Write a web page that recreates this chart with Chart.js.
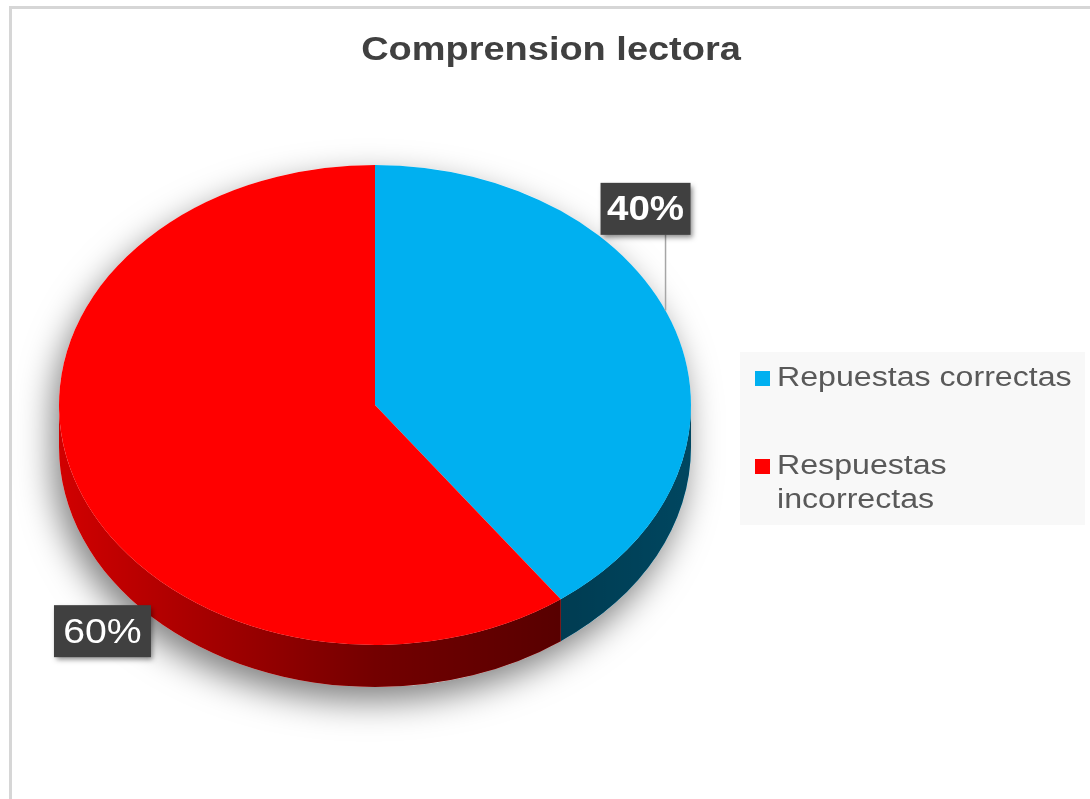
<!DOCTYPE html>
<html>
<head>
<meta charset="utf-8">
<script src="https://cdn.jsdelivr.net/npm/chart.js@4.4.1/dist/chart.umd.min.js"></script>
<style>
    body { margin: 0; background: #fff; overflow: hidden; }
    #frame { position: absolute; left: 9px; top: 6px; right: -10px; bottom: -10px;
             border-left: 3px solid #d6d6d6; border-top: 3px solid #d6d6d6; }
    #pie { position: absolute; left: 0; top: 0; }
</style>
</head>
<body>
<div id="frame"></div>
<canvas id="pie" width="1090" height="799"></canvas>
<script>
// datos del gráfico
const chartTitle = 'Comprension lectora';
const labels = ['Repuestas correctas', 'Respuestas incorrectas'];
const values = [40, 60];
const colors = ['#00b0f0', '#ff0000'];

// apariencia 3D
const tilt = 240 / 316;   // achatamiento vertical de la elipse
const depth = 42;         // grosor del pastel
const labelOffsets = [[-30, -122], [28, 152]];
const FONT = '"Liberation Sans", Arial, sans-serif';

function pieGeom(chart) {
    const arc = chart.getDatasetMeta(0).data[0];
    return { cx: arc.x, cy: arc.y, rx: arc.outerRadius, ry: arc.outerRadius * tilt };
}

// texto estirado en horizontal (como en la imagen original)
function drawText(ctx, text, x, y, align, stretch) {
    ctx.save();
    ctx.translate(x, y);
    ctx.scale(stretch, 1);
    ctx.textAlign = align;
    ctx.fillText(text, 0, 0);
    ctx.restore();
}

// cara lateral + sombra, luego aplastar el pastel
const pie3d = {
    id: 'pie3d',
    beforeDatasetsDraw(chart) {
        const ctx = chart.ctx;
        const { cx, cy, rx, ry } = pieGeom(chart);

        // sombra
        ctx.save();
        ctx.beginPath();
        ctx.ellipse(cx, cy, rx, ry, 0, Math.PI, 2 * Math.PI);
        ctx.lineTo(cx + rx, cy + depth);
        ctx.ellipse(cx, cy + depth, rx, ry, 0, 0, Math.PI);
        ctx.closePath();
        ctx.shadowColor = 'rgba(0,0,0,0.5)';
        ctx.shadowBlur = 34;
        ctx.shadowOffsetX = -6;
        ctx.shadowOffsetY = 14;
        ctx.fillStyle = '#fff';
        ctx.fill();
        ctx.restore();

        // lados visibles (mitad de abajo)
        const shade = ctx.createLinearGradient(cx - rx, 0, cx + rx, 0);
        shade.addColorStop(0, 'rgba(0,0,0,0.18)');
        shade.addColorStop(0.5, 'rgba(0,0,0,0.55)');
        shade.addColorStop(0.8, 'rgba(0,0,0,0.66)');
        shade.addColorStop(1, 'rgba(0,0,0,0.6)');
        chart.getDatasetMeta(0).data.forEach((arc, i) => {
            const a1 = Math.max(arc.startAngle, 0);
            const a2 = Math.min(arc.endAngle, Math.PI);
            if (a2 <= a1) return;
            ctx.beginPath();
            ctx.ellipse(cx, cy, rx, ry, 0, a1, a2);
            ctx.ellipse(cx, cy + depth, rx, ry, 0, a2, a1, true);
            ctx.closePath();
            ctx.fillStyle = colors[i];
            ctx.fill();
            ctx.fillStyle = shade;
            ctx.fill();
        });

        ctx.save();
        ctx.translate(cx, cy);
        ctx.scale(1, tilt);
        ctx.translate(-cx, -cy);
    },
    afterDatasetsDraw(chart) {
        chart.ctx.restore();
    },
    afterDraw(chart) {
        const ctx = chart.ctx;
        const { cx, cy, rx, ry } = pieGeom(chart);
        const total = values.reduce((a, b) => a + b, 0);

        // etiquetas de porcentaje
        chart.getDatasetMeta(0).data.forEach((arc, i) => {
            const mid = (arc.startAngle + arc.endAngle) / 2;
            const px = cx + rx * Math.cos(mid);
            const py = cy + ry * Math.sin(mid);
            const bx = px + labelOffsets[i][0];
            const by = py + labelOffsets[i][1];
            const w = i === 0 ? 90 : 97, h = 52;

            if (i === 0) { // linea guia
                const lx = bx + 20;
                const ey = cy - ry * Math.sqrt(1 - Math.pow((lx - cx) / rx, 2));
                ctx.strokeStyle = '#a6a6a6';
                ctx.lineWidth = 1.5;
                ctx.beginPath();
                ctx.moveTo(lx, by + h / 2);
                ctx.lineTo(lx, ey);
                ctx.stroke();
            }
            ctx.save();
            ctx.shadowColor = 'rgba(0,0,0,0.45)';
            ctx.shadowBlur = 5;
            ctx.shadowOffsetX = 2;
            ctx.shadowOffsetY = 3;
            ctx.fillStyle = '#404040';
            ctx.fillRect(bx - w / 2, by - h / 2, w, h);
            ctx.restore();
            ctx.fillStyle = '#fff';
            ctx.font = (i === 0 ? 'bold ' : '') + '35px ' + FONT;
            ctx.textBaseline = 'middle';
            drawText(ctx, Math.round(values[i] / total * 100) + '%', bx, by + 2, 'center', i === 0 ? 1.1 : 1.12);
        });

        // titulo
        ctx.fillStyle = '#404040';
        ctx.font = 'bold 33px ' + FONT;
        ctx.textBaseline = 'alphabetic';
        drawText(ctx, chartTitle, 551, 60, 'center', 1.15);

        // leyenda
        ctx.fillStyle = '#f8f8f8';
        ctx.fillRect(740, 352, 345, 173);
        ctx.font = '27px ' + FONT;
        const stretch = 1.19;
        let y = 386;
        labels.forEach((lab, i) => {
            ctx.fillStyle = colors[i];
            ctx.fillRect(755, y - 15, 15, 15);
            ctx.fillStyle = '#595959';
            const words = lab.split(' ');
            let line = '';
            words.forEach(wd => {
                const test = line ? line + ' ' + wd : wd;
                if (ctx.measureText(test).width * stretch > 300 && line) {
                    drawText(ctx, line, 777, y, 'left', stretch);
                    y += 34;
                    line = wd;
                } else {
                    line = test;
                }
            });
            drawText(ctx, line, 777, y, 'left', stretch);
            y += 88;
        });
    }
};

new Chart(document.getElementById('pie'), {
    type: 'pie',
    data: {
        labels: labels,
        datasets: [{ data: values, backgroundColor: colors, borderWidth: 0 }]
    },
    options: {
        responsive: false,
        devicePixelRatio: 1,
        animation: false,
        layout: { padding: { left: 59, right: 399, top: 89, bottom: 78 } },
        plugins: {
            legend: { display: false },
            title: { display: false },
            tooltip: { enabled: false }
        }
    },
    plugins: [pie3d]
});
</script>
</body>
</html>
